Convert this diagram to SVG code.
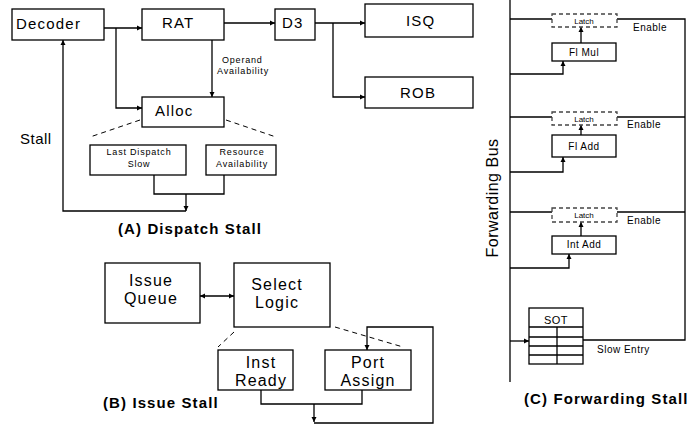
<svg xmlns="http://www.w3.org/2000/svg" width="691" height="428" viewBox="0 0 691 428">
<style>
.box{fill:#fff;stroke:#000;stroke-width:1.3}
.dbox{fill:#fff;stroke:#444;stroke-width:1.3;stroke-dasharray:4,3}
.ln{fill:none;stroke:#000;stroke-width:1.3}
.dl{fill:none;stroke:#000;stroke-width:1;stroke-dasharray:5,4}
text{font-family:"Liberation Sans",Arial,sans-serif;fill:#000}
.big{font-size:15px;letter-spacing:1.2px}
.med{font-size:10px;letter-spacing:0.5px}
.sm{font-size:9px;letter-spacing:0.8px}
.title{font-size:15px;font-weight:bold;letter-spacing:1.1px}
.c{text-anchor:middle}
</style>
<defs>
<marker id="ar" markerWidth="6" markerHeight="6" refX="5" refY="3" orient="auto" markerUnits="userSpaceOnUse">
<path d="M0,0.5 L5,3 L0,5.5 Z" fill="#000"/>
</marker>
<marker id="ars" markerWidth="6" markerHeight="6" refX="0" refY="3" orient="auto" markerUnits="userSpaceOnUse">
<path d="M5,0.5 L0,3 L5,5.5 Z" fill="#000"/>
</marker>
</defs>

<g id="connectors">
<path class="ln" d="M104,28 H142" marker-end="url(#ar)"/>
<path class="ln" d="M116,28 V108 H142" marker-end="url(#ar)"/>
<path class="ln" d="M224,23 H275" marker-end="url(#ar)"/>
<path class="ln" d="M315,23 H365" marker-end="url(#ar)"/>
<path class="ln" d="M333,23 V97 H365" marker-end="url(#ar)"/>
<path class="ln" d="M212,40 V97" marker-end="url(#ar)"/>
<path class="ln" d="M154,175 V194 H224 V175"/>
<path class="ln" d="M186,194 V211" marker-end="url(#ar)"/>
<path class="ln" d="M186,211 H63 V40" marker-end="url(#ar)"/>
<path class="dl" d="M140,120 L90,137"/>
<path class="dl" d="M226,120 L276,137"/>

<path class="ln" d="M200,296 H234" marker-start="url(#ars)" marker-end="url(#ar)"/>
<path class="ln" d="M261,390 V404 H362 V390"/>
<path class="ln" d="M314,404 V422" marker-end="url(#ar)"/>
<path class="ln" d="M314,423 H433 V327 H367 V350" marker-end="url(#ar)"/>
<path class="dl" d="M234,332 L218,347"/>
<path class="dl" d="M335,327 L403,347"/>

<path class="ln" d="M510,0 V382"/>
<path class="ln" d="M510,19 H552"/>
<path class="ln" d="M617,19 H685 V340 H583"/>
<path class="ln" d="M510,117 H552"/>
<path class="ln" d="M617,117 H685"/>
<path class="ln" d="M510,212 H552"/>
<path class="ln" d="M617,212 H685"/>
<path class="ln" d="M510,74 H563 V61" marker-end="url(#ar)"/>
<path class="ln" d="M510,172 H563 V157" marker-end="url(#ar)"/>
<path class="ln" d="M510,268 H569 V254" marker-end="url(#ar)"/>
<path class="ln" d="M581,43 V27" marker-end="url(#ar)"/>
<path class="ln" d="M581,135 V125" marker-end="url(#ar)"/>
<path class="ln" d="M581,236 V222" marker-end="url(#ar)"/>
<path class="ln" d="M510,341 H529" marker-end="url(#ar)"/>
</g>

<g id="decoder"><rect class="box" x="12" y="9" width="92" height="31"/><text class="big" x="16" y="29">Decoder</text></g>
<g id="rat"><rect class="box" x="142" y="9" width="82" height="31"/><text class="big" x="162" y="28">RAT</text></g>
<g id="d3"><rect class="box" x="275" y="9" width="40" height="31"/><text class="big" x="282" y="28">D3</text></g>
<g id="isq"><rect class="box" x="365" y="4" width="108" height="33"/><text class="big" x="406" y="26">ISQ</text></g>
<g id="rob"><rect class="box" x="365" y="77" width="108" height="31"/><text class="big" x="400" y="98">ROB</text></g>
<g id="alloc"><rect class="box" x="142" y="97" width="82" height="30"/><text class="big" x="155" y="116">Alloc</text></g>
<g id="operand-label"><text class="sm" x="222" y="63">Operand</text><text class="sm" x="217" y="74">Availability</text></g>
<g id="last-dispatch"><rect class="box" x="90" y="145" width="96" height="30"/><text class="sm c" x="139" y="155">Last Dispatch</text><text class="sm c" x="139" y="167">Slow</text></g>
<g id="resource"><rect class="box" x="206" y="145" width="70" height="30"/><text class="sm c" x="242" y="155">Resource</text><text class="sm c" x="242" y="167">Availability</text></g>
<g id="stall-label"><text class="big" x="20" y="144" style="letter-spacing:0.5px">Stall</text></g>
<g id="title-a"><text class="title" x="118" y="234">(A) Dispatch Stall</text></g>

<g id="issue-queue"><rect class="box" x="105" y="263" width="95" height="60"/><text class="big c" x="151" y="286" style="font-size:16px">Issue</text><text class="big c" x="151" y="304" style="font-size:16px">Queue</text></g>
<g id="select-logic"><rect class="box" x="234" y="263" width="96" height="64"/><text class="big c" x="277" y="290" style="font-size:16px">Select</text><text class="big c" x="277" y="308" style="font-size:16px">Logic</text></g>
<g id="inst-ready"><rect class="box" x="218" y="350" width="75" height="40"/><text class="big c" x="261" y="368" style="font-size:16px">Inst</text><text class="big c" x="261" y="386" style="font-size:16px">Ready</text></g>
<g id="port-assign"><rect class="box" x="325" y="350" width="86" height="40"/><text class="big c" x="368" y="368" style="font-size:16px">Port</text><text class="big c" x="368" y="386" style="font-size:16px">Assign</text></g>
<g id="title-b"><text class="title" x="103" y="408">(B) Issue Stall</text></g>

<g id="latch1"><rect class="dbox" x="552" y="14" width="65" height="13"/><text class="c" x="584" y="24" style="font-size:8px">Latch</text></g>
<g id="flmul"><rect class="box" x="552" y="43" width="64" height="18"/><text class="med c" x="584" y="56">Fl Mul</text></g>
<g id="enable1"><text class="med" x="633" y="31">Enable</text></g>
<g id="latch2"><rect class="dbox" x="552" y="112" width="65" height="13"/><text class="c" x="584" y="122" style="font-size:8px">Latch</text></g>
<g id="fladd"><rect class="box" x="552" y="135" width="64" height="22"/><text class="med c" x="584" y="150">Fl Add</text></g>
<g id="enable2"><text class="med" x="627" y="128">Enable</text></g>
<g id="latch3"><rect class="dbox" x="552" y="208" width="65" height="14"/><text class="c" x="584" y="218" style="font-size:8px">Latch</text></g>
<g id="intadd"><rect class="box" x="552" y="236" width="64" height="18"/><text class="med c" x="584" y="248">Int Add</text></g>
<g id="enable3"><text class="med" x="627" y="224">Enable</text></g>
<g id="bus-label"><text class="c" x="0" y="0" transform="translate(498,198) rotate(-90)" style="font-size:16px;letter-spacing:0.5px">Forwarding Bus</text></g>
<g id="sot">
<rect class="box" x="529" y="308" width="54" height="56"/>
<path class="ln" d="M529,327 H583 M529,337 H583 M529,346 H583 M529,355 H583 M557,327 V364"/>
<text class="c" x="556" y="324" style="font-size:11px;letter-spacing:0.5px">SOT</text>
</g>
<g id="slow-entry"><text class="med" x="597" y="353">Slow Entry</text></g>
<g id="title-c"><text class="title" x="524" y="404">(C) Forwarding Stall</text></g>
</svg>
